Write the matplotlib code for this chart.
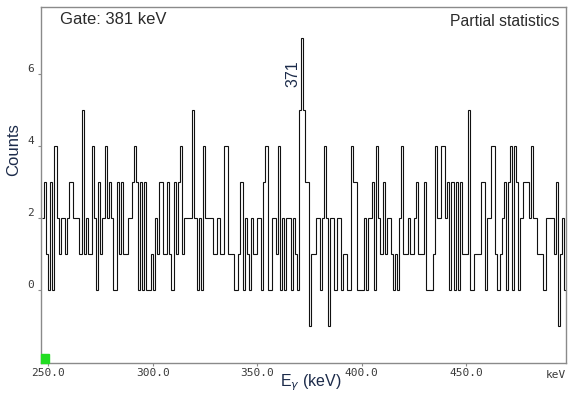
import matplotlib
matplotlib.use("Agg")
import matplotlib.pyplot as plt
import numpy as np
from matplotlib.patches import Rectangle

# gated spectrum, 1 keV bins starting at 247 keV
first_bin = 247
counts = [
    2, 3, 1, 0, 3, 0, 4, 2, 1, 2, 2, 1, 2, 3, 3, 2, 2, 2, 1, 5, 1, 2, 1, 1, 4,
    2, 0, 3, 1, 2, 4, 2, 3, 2, 0, 0, 3, 1, 3, 1, 1, 2, 2, 3, 4, 3, 0, 3, 0, 3,
    0, 0, 1, 0, 2, 1, 3, 3, 1, 1, 3, 1, 0, 3, 1, 3, 4, 1, 2, 2, 2, 2, 5, 2, 0,
    2, 0, 4, 2, 2, 2, 2, 1, 1, 2, 1, 1, 4, 4, 1, 1, 1, 0, 0, 1, 3, 0, 2, 1, 0, 2,
    1, 1, 2, 2, 0, 3, 4, 0, 0, 2, 2, 1, 4, 0, 2, 0, 2, 2, 0, 2, 1, 0, 5, 7,
    5, 3, 3, -1, 1, 1, 2, 2, 0, 2, 4, 2, -1, 2, 2, 0, 2, 2, 0, 1, 1, 0, 0, 4, 3, 3, 0,
    0, 0, 2, 0, 2, 2, 3, 0, 4, 2, 1, 3, 1, 2, 2, 1, 0, 1, 0, 2, 4, 1, 1, 2, 1,
    1, 2, 3, 1, 1, 1, 3, 0, 0, 0, 1, 4, 2, 2, 4, 4, 2, 3, 0, 3, 0, 3, 0, 3, 1, 1,
    1, 5, 0, 0, 1, 1, 1, 3, 3, 0, 2, 2, 4, 4, 1, 0, 1, 2, 3, 0, 3, 4, 0, 4, 3,
    0, 2, 3, 3, 3, 2, 4, 2, 2, 1, 1, 1, 0, 2, 2, 2, 2, 1, 3, -1, 1, 2, 0,
]
edges = first_bin + np.arange(len(counts) + 1)

x_ticks = [250, 300, 350, 400, 450]
y_ticks = [0, 2, 4, 6]
peak_label = 371

fig = plt.figure(figsize=(5.7, 3.94), dpi=100)
ax = fig.add_axes([0.072, 0.079, 0.921, 0.903])

ax.stairs(counts, edges, color="#111111", lw=0.8, baseline=None)

ax.set_xlim(246.6, 497.8)
ax.set_ylim(-2.03, 7.86)

for s in ax.spines.values():
    s.set_color("#8a8a8a")
    s.set_linewidth(1.0)

mono = "DejaVu Sans Mono"
ax.set_xticks(x_ticks)
ax.set_xticklabels(["%.1f" % v for v in x_ticks], family=mono, fontsize=8, color="#3a3a3a")
ax.set_yticks(y_ticks)
ax.set_yticklabels([str(v) for v in y_ticks], family=mono, fontsize=8, color="#3a3a3a")
for lab in ax.get_yticklabels():
    lab.set_va("bottom")
ax.tick_params(axis="both", direction="out", length=2, width=0.8, color="#8a8a8a", pad=2)
ax.tick_params(axis="y", pad=3)

ax.text(1.0, -0.021, "keV", transform=ax.transAxes, ha="right", va="top",
        family=mono, fontsize=8, color="#3a3a3a")

sans = "Liberation Sans"
ax.text(0.513, -0.026, r"E$_\gamma$ (keV)", transform=ax.transAxes, ha="center", va="top",
        family=sans, fontsize=11.5, color="#1c2b4a")
ax.text(-0.052, 0.6, "Counts", transform=ax.transAxes, rotation=90, ha="center", va="center",
        family=sans, fontsize=12, color="#1c2b4a")

ax.text(0.036, 0.985, "Gate: 381 keV", transform=ax.transAxes, ha="left", va="top",
        family=sans, fontsize=12, color="#2b2b2b")
ax.text(0.987, 0.98, "Partial statistics", transform=ax.transAxes, ha="right", va="top",
        family=sans, fontsize=11.3, color="#2b2b2b")
ax.text(peak_label - 0.2, 5.65, str(peak_label), rotation=90, ha="right", va="bottom",
        family=sans, fontsize=11.5, color="#1c2b4a")

# little green marker in the corner
ax.add_patch(Rectangle((0, 0), 0.016, 0.024, transform=ax.transAxes,
                       color="#22dd22", clip_on=False, zorder=5))

fig.savefig("out.png", dpi=100)
